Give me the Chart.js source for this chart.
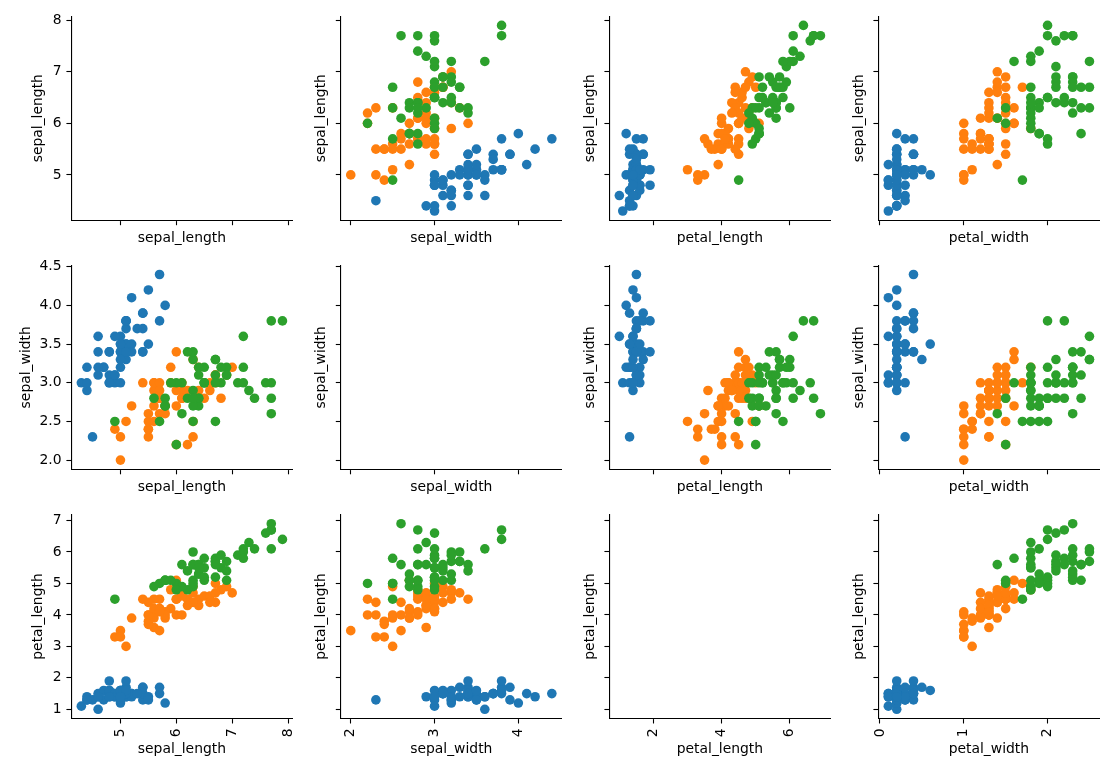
<!DOCTYPE html>
<html><head><meta charset="utf-8">
<script src="https://cdn.jsdelivr.net/npm/chart.js@4/dist/chart.umd.min.js"></script>
<style>
html,body{margin:0;padding:0;background:#fff;}
body{width:1116px;height:772px;overflow:hidden;position:relative;}
canvas{position:absolute;}
</style>
</head><body>
<script>
// ---- data (iris dataset) ----
const variables = ['sepal_length','sepal_width','petal_length','petal_width'];
const rowVariables = ['sepal_length','sepal_width','petal_length'];
const speciesNames = ['setosa','versicolor','virginica'];
const speciesColors = ['#1f77b4','#ff7f0e','#2ca02c'];

const setosaSepalLength = [5.1,4.9,4.7,4.6,5.0,5.4,4.6,5.0,4.4,4.9,5.4,4.8,4.8,4.3,5.8,5.7,5.4,5.1,5.7,5.1,5.4,5.1,4.6,5.1,4.8,5.0,5.0,5.2,5.2,4.7,4.8,5.4,5.2,5.5,4.9,5.0,5.5,4.9,4.4,5.1,5.0,4.5,4.4,5.0,5.1,4.8,5.1,4.6,5.3,5.0];
const setosaSepalWidth = [3.5,3.0,3.2,3.1,3.6,3.9,3.4,3.4,2.9,3.1,3.7,3.4,3.0,3.0,4.0,4.4,3.9,3.5,3.8,3.8,3.4,3.7,3.6,3.3,3.4,3.0,3.4,3.5,3.4,3.2,3.1,3.4,4.1,4.2,3.1,3.2,3.5,3.6,3.0,3.4,3.5,2.3,3.2,3.5,3.8,3.0,3.8,3.2,3.7,3.3];
const setosaPetalLength = [1.4,1.4,1.3,1.5,1.4,1.7,1.4,1.5,1.4,1.5,1.5,1.6,1.4,1.1,1.2,1.5,1.3,1.4,1.7,1.5,1.7,1.5,1.0,1.7,1.9,1.6,1.6,1.5,1.4,1.6,1.6,1.5,1.5,1.4,1.5,1.2,1.3,1.4,1.3,1.5,1.3,1.3,1.3,1.6,1.9,1.4,1.6,1.4,1.5,1.4];
const setosaPetalWidth = [0.2,0.2,0.2,0.2,0.2,0.4,0.3,0.2,0.2,0.1,0.2,0.2,0.1,0.1,0.2,0.4,0.4,0.3,0.3,0.3,0.2,0.4,0.2,0.5,0.2,0.2,0.4,0.2,0.2,0.2,0.2,0.4,0.1,0.2,0.2,0.2,0.2,0.1,0.2,0.2,0.3,0.3,0.2,0.6,0.4,0.3,0.2,0.2,0.2,0.2];

const versicolorSepalLength = [7.0,6.4,6.9,5.5,6.5,5.7,6.3,4.9,6.6,5.2,5.0,5.9,6.0,6.1,5.6,6.7,5.6,5.8,6.2,5.6,5.9,6.1,6.3,6.1,6.4,6.6,6.8,6.7,6.0,5.7,5.5,5.5,5.8,6.0,5.4,6.0,6.7,6.3,5.6,5.5,5.5,6.1,5.8,5.0,5.6,5.7,5.7,6.2,5.1,5.7];
const versicolorSepalWidth = [3.2,3.2,3.1,2.3,2.8,2.8,3.3,2.4,2.9,2.7,2.0,3.0,2.2,2.9,2.9,3.1,3.0,2.7,2.2,2.5,3.2,2.8,2.5,2.8,2.9,3.0,2.8,3.0,2.9,2.6,2.4,2.4,2.7,2.7,3.0,3.4,3.1,2.3,3.0,2.5,2.6,3.0,2.6,2.3,2.7,3.0,2.9,2.9,2.5,2.8];
const versicolorPetalLength = [4.7,4.5,4.9,4.0,4.6,4.5,4.7,3.3,4.6,3.9,3.5,4.2,4.0,4.7,3.6,4.4,4.5,4.1,4.5,3.9,4.8,4.0,4.9,4.7,4.3,4.4,4.8,5.0,4.5,3.5,3.8,3.7,3.9,5.1,4.5,4.5,4.7,4.4,4.1,4.0,4.4,4.6,4.0,3.3,4.2,4.2,4.2,4.3,3.0,4.1];
const versicolorPetalWidth = [1.4,1.5,1.5,1.3,1.5,1.3,1.6,1.0,1.3,1.4,1.0,1.5,1.0,1.4,1.3,1.4,1.5,1.0,1.5,1.1,1.8,1.3,1.5,1.2,1.3,1.4,1.4,1.7,1.5,1.0,1.1,1.0,1.2,1.6,1.5,1.6,1.5,1.3,1.3,1.3,1.2,1.4,1.2,1.0,1.3,1.2,1.3,1.3,1.1,1.3];

const virginicaSepalLength = [6.3,5.8,7.1,6.3,6.5,7.6,4.9,7.3,6.7,7.2,6.5,6.4,6.8,5.7,5.8,6.4,6.5,7.7,7.7,6.0,6.9,5.6,7.7,6.3,6.7,7.2,6.2,6.1,6.4,7.2,7.4,7.9,6.4,6.3,6.1,7.7,6.3,6.4,6.0,6.9,6.7,6.9,5.8,6.8,6.7,6.7,6.3,6.5,6.2,5.9];
const virginicaSepalWidth = [3.3,2.7,3.0,2.9,3.0,3.0,2.5,2.9,2.5,3.6,3.2,2.7,3.0,2.5,2.8,3.2,3.0,3.8,2.6,2.2,3.2,2.8,2.8,2.7,3.3,3.2,2.8,3.0,2.8,3.0,2.8,3.8,2.8,2.8,2.6,3.0,3.4,3.1,3.0,3.1,3.1,3.1,2.7,3.2,3.3,3.0,2.5,3.0,3.4,3.0];
const virginicaPetalLength = [6.0,5.1,5.9,5.6,5.8,6.6,4.5,6.3,5.8,6.1,5.1,5.3,5.5,5.0,5.1,5.3,5.5,6.7,6.9,5.0,5.7,4.9,6.7,4.9,5.7,6.0,4.8,4.9,5.6,5.8,6.1,6.4,5.6,5.1,5.6,6.1,5.6,5.5,4.8,5.4,5.6,5.1,5.1,5.9,5.7,5.2,5.0,5.2,5.4,5.1];
const virginicaPetalWidth = [2.5,1.9,2.1,1.8,2.2,2.1,1.7,1.8,1.8,2.5,2.0,1.9,2.1,2.0,2.4,2.3,1.8,2.2,2.3,1.5,2.3,2.0,2.0,1.8,2.1,1.8,1.8,1.8,2.1,1.6,1.9,2.0,2.2,1.5,1.4,2.3,2.4,1.8,1.8,2.1,2.4,2.3,1.9,2.3,2.5,2.3,1.9,2.0,2.3,1.8];

// ---- tick values and labels ----
const sepalLengthTicks = [5,6,7,8];
const sepalLengthTickLabels = ['5','6','7','8'];
const sepalWidthXTicks = [2,3,4];
const sepalWidthXTickLabels = ['2','3','4'];
const sepalWidthYTicks = [2.0,2.5,3.0,3.5,4.0,4.5];
const sepalWidthYTickLabels = ['2.0','2.5','3.0','3.5','4.0','4.5'];
const petalLengthXTicks = [2,4,6];
const petalLengthXTickLabels = ['2','4','6'];
const petalLengthYTicks = [1,2,3,4,5,6,7];
const petalLengthYTickLabels = ['1','2','3','4','5','6','7'];
const petalWidthXTicks = [0,1,2];
const petalWidthXTickLabels = ['0','1','2'];

// ---- assembling tables from the arrays ----
const columns = {
  sepal_length: [setosaSepalLength, versicolorSepalLength, virginicaSepalLength],
  sepal_width: [setosaSepalWidth, versicolorSepalWidth, virginicaSepalWidth],
  petal_length: [setosaPetalLength, versicolorPetalLength, virginicaPetalLength],
  petal_width: [setosaPetalWidth, versicolorPetalWidth, virginicaPetalWidth]
};
const xTicks = {
  sepal_length: [sepalLengthTicks, sepalLengthTickLabels],
  sepal_width: [sepalWidthXTicks, sepalWidthXTickLabels],
  petal_length: [petalLengthXTicks, petalLengthXTickLabels],
  petal_width: [petalWidthXTicks, petalWidthXTickLabels]
};
const yTicks = {
  sepal_length: [sepalLengthTicks, sepalLengthTickLabels],
  sepal_width: [sepalWidthYTicks, sepalWidthYTickLabels],
  petal_length: [petalLengthYTicks, petalLengthYTickLabels]
};
function limits(v) { // matplotlib-style 5% autoscale margin
  const all = [].concat(...columns[v]);
  const mn = Math.min(...all), mx = Math.max(...all), m = (mx - mn) * 0.05;
  return [mn - m, mx + m];
}

// ---- layout (pixels) ----
const colLeft = [71.3, 340.7, 609.3, 878.3];
const axW = 221.2;
const rowTop = [16.1, 265.2, 514.4];
const axH = 204.2;
const FONT = {family: 'DejaVu Sans', size: 13.9};
const LH = 13.9 * 1.2;
const yTitleDist = [[32.8, 19, 19, 19], [45.4, 19, 19, 19], [32.8, 19, 19, 19]];
const xTitleDist = [16.6, 16.6, 29.6];

Chart.defaults.font.family = 'DejaVu Sans';
Chart.defaults.color = '#000';

function zeroPad(s) { s.paddingLeft = 0; s.paddingRight = 0; s.paddingTop = 0; s.paddingBottom = 0; }

for (let r = 0; r < 3; r++) {
  for (let c = 0; c < 4; c++) {
    const xv = variables[c], yv = rowVariables[r];
    const Lw = 72, Tp = 8, Rp = 8, Bh = 54;
    const cl = Math.floor(colLeft[c] - Lw), ct = Math.floor(rowTop[r] - Tp);
    const padL = colLeft[c] - cl, padT = rowTop[r] - ct;
    const cw = Math.ceil(padL + axW + Rp), ch = Math.ceil(padT + axH + Bh);
    const padR = cw - padL - axW;
    const xH = ch - padT - axH;
    const cv = document.createElement('canvas');
    cv.width = cw; cv.height = ch;
    cv.style.left = cl + 'px'; cv.style.top = ct + 'px';
    cv.style.width = cw + 'px'; cv.style.height = ch + 'px';
    document.body.appendChild(cv);

    const datasets = [];
    if (r !== c) {
      for (let s = 0; s < 3; s++) {
        const xs = columns[xv][s], ys = columns[yv][s];
        datasets.push({
          label: speciesNames[s],
          data: xs.map((x, i) => ({x: x, y: ys[i]})),
          backgroundColor: speciesColors[s],
          borderColor: speciesColors[s],
          borderWidth: 0,
          pointRadius: 4.8,
          pointHoverRadius: 4.8,
          order: 2 - s
        });
      }
    }
    const [xl0, xl1] = limits(xv), [yl0, yl1] = limits(yv);
    const [xtv, xtl] = xTicks[xv], [ytv, ytl] = yTicks[yv];
    const showXLabels = r === 2, showYLabels = c === 0;
    const xTitleCenter = padT + axH + xTitleDist[r] + 1.0;
    const yTitleCenter = padL - yTitleDist[r][c];

    new Chart(cv, {
      type: 'scatter',
      data: {datasets},
      options: {
        responsive: false,
        animation: false,
        events: [],
        devicePixelRatio: 1,
        layout: {padding: {left: 0, top: padT, right: padR, bottom: 0}, autoPadding: false},
        plugins: {legend: {display: false}, tooltip: {enabled: false}, title: {display: false}},
        scales: {
          x: {
            type: 'linear', position: 'bottom', min: xl0, max: xl1, bounds: 'data',
            afterBuildTicks: s => { s.ticks = xtv.map(v => ({value: v})); },
            afterFit: s => { s.height = xH; zeroPad(s); },
            ticks: {
              autoSkip: false, font: FONT, color: '#000', padding: 4.9,
              minRotation: 90, maxRotation: 90,
              callback: (v, i) => showXLabels ? xtl[i] : ''
            },
            grid: {display: true, drawOnChartArea: false, drawTicks: true, tickLength: 4.9, tickWidth: 1.1, tickColor: '#000'},
            border: {display: true, color: '#000', width: 1.1},
            title: {display: true, text: xv, font: FONT, color: '#000',
              padding: {top: 0, bottom: ch - LH / 2 - xTitleCenter}}
          },
          y: {
            type: 'linear', position: 'left', min: yl0, max: yl1, bounds: 'data',
            afterBuildTicks: s => { s.ticks = ytv.map(v => ({value: v})); },
            afterFit: s => { s.width = padL; zeroPad(s); },
            ticks: {
              autoSkip: false, font: FONT, color: '#000', padding: 4.9,
              callback: (v, i) => showYLabels ? ytl[i] : ''
            },
            grid: {display: true, drawOnChartArea: false, drawTicks: true, tickLength: 4.9, tickWidth: 1.1, tickColor: '#000'},
            border: {display: true, color: '#000', width: 1.1},
            title: {display: true, text: yv, font: FONT, color: '#000',
              padding: {top: yTitleCenter - LH / 2, bottom: 0}}
          }
        }
      }
    });
  }
}
</script>
</body></html>
